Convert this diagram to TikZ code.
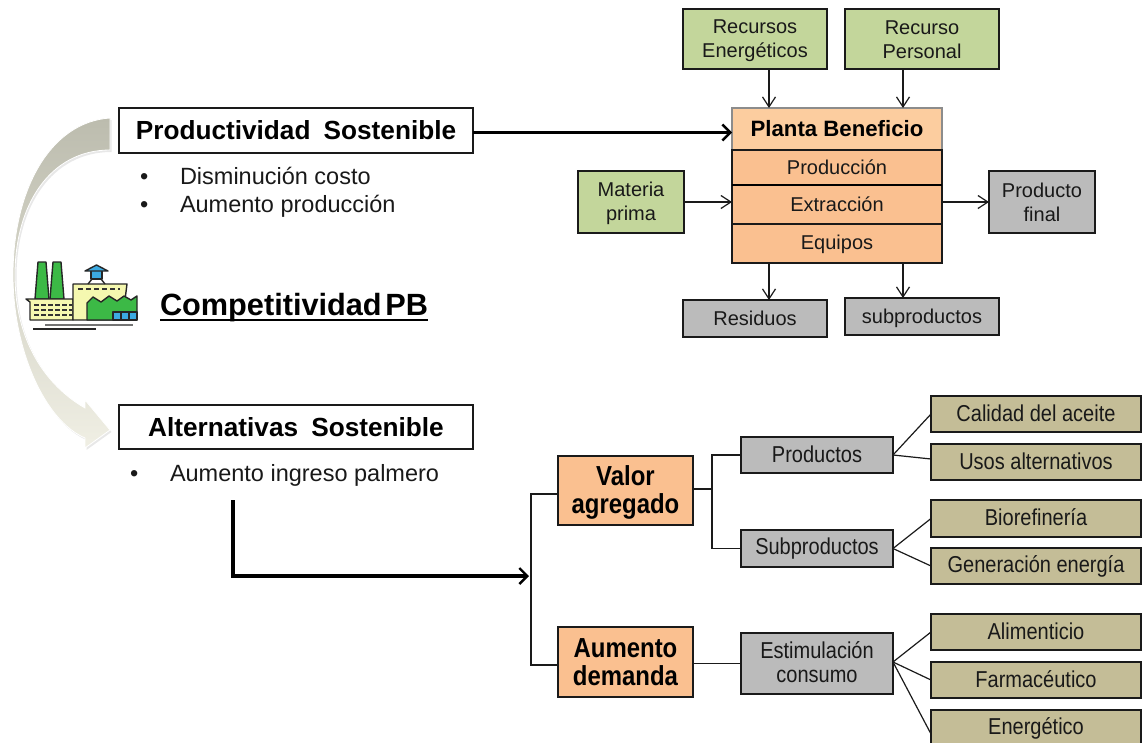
\documentclass[tikz,border=0pt]{standalone}
\usepackage{fontspec}
\setmainfont{Liberation Sans}
\newfontfamily\condfont[FakeStretch=0.87]{Liberation Sans}
\usetikzlibrary{arrows.meta,shadows}
\definecolor{cgreen}{HTML}{C3D69B}
\definecolor{cgray}{HTML}{BBBBBB}
\definecolor{corange}{HTML}{FAC090}
\definecolor{clight}{HTML}{FCCD9F}
\definecolor{ctan}{HTML}{C4BD97}
\definecolor{cline}{HTML}{1A1A1A}
\newcommand{\fs}[2]{\fontsize{#1}{#2}\selectfont}
\newcommand{\st}{\rule[-3pt]{0pt}{20pt}}
\newcommand{\bx}[7]{\node[#6,minimum width={(#4-#2)*1pt},minimum height={(#5-#3)*1pt}] (#1) at ({(#2+#4)/2},{(#3+#5)/2}) {#7};}
\tikzset{
 box/.style={draw=cline,line width=1.3pt,inner sep=0pt,outer sep=0pt,align=center,font=\fs{20}{24},text=black!90},
 gbox/.style={box,fill=cgreen},
 ybox/.style={box,fill=cgray},
 obox/.style={box,fill=corange},
 tbox/.style={box,fill=ctan},
 cybox/.style={box,fill=cgray,font=\condfont\fs{23}{24}},
 ctbox/.style={box,fill=ctan,font=\condfont\fs{23}{24}},
 lbox/.style={box,fill=clight,draw=black!45,font=\fs{22.2}{24}\bfseries,text=black},
 wbox/.style={box,fill=white,font=\fs{26.2}{28}\bfseries,text=black},
 vbox/.style={box,fill=corange,font=\condfont\fs{27.5}{28}\bfseries,text=black},
 con/.style={draw=cline,line width=1.2pt},
 arr/.style={con,-{Straight Barb[length=10pt,width=13pt,line width=1.2pt]}},
 thick arr/.style={draw=black,line width=3.2pt,-{Straight Barb[length=8pt,width=16pt,line width=2.4pt]}},
 txt/.style={inner sep=0pt,outer sep=0pt,anchor=base west,font=\fs{23.5}{28},text=black!90},
 facline/.style={draw=black!85,line width=1.4pt,line join=round},
}
\begin{document}
\begin{tikzpicture}[x=1pt,y=-1pt]
\useasboundingbox (0,0) rectangle (1143,742);
% curved arrow
\begin{scope}[shift={(1.5,2)}]
\fill[black!15,opacity=.6] (110,118) .. controls (50,122) and (13,190) .. (13,275) .. controls (13,350) and (45,421) .. (85,438) -- (85,448) -- (110,430) -- (85,400) -- (85,408) .. controls (45,385) and (15,340) .. (15,275) .. controls (15,205) and (50,150) .. (110,150) -- cycle;
\end{scope}
\path[draw=white,line width=.8pt,
 top color={rgb,255:red,188;green,188;blue,174},middle color={rgb,255:red,226;green,226;blue,212},bottom color={rgb,255:red,240;green,239;blue,228}]
 (110,118) .. controls (50,122) and (13,190) .. (13,275) .. controls (13,350) and (45,421) .. (85,438) -- (85,448) -- (110,430) -- (85,400) -- (85,408) .. controls (45,385) and (15,340) .. (15,275) .. controls (15,205) and (50,150) .. (110,150) -- cycle;
% factory
\draw[facline,fill={rgb,255:red,60;green,185;blue,70}] (38,262) -- (46,262) -- (49,299) -- (35,299) -- cycle;
\draw[facline,fill={rgb,255:red,60;green,185;blue,70}] (53,262) -- (61,262) -- (64,299) -- (50,299) -- cycle;
\draw[facline,fill={rgb,255:red,245;green,248;blue,176}] (26,299) -- (73,299) -- (73,320) -- (30,320) -- (30,302) -- cycle;
\draw[facline,fill={rgb,255:red,245;green,248;blue,176}] (73,284) -- (127,284) -- (125,300) -- (125,320) -- (73,320) -- cycle;
\draw[facline,fill={rgb,255:red,60;green,185;blue,70}] (87,320) -- (87,303) -- (93,297) -- (101,302) -- (109,296) -- (117,301) -- (124,296) -- (131,300) -- (137,296) -- (137,320) -- cycle;
\draw[facline,fill={rgb,255:red,60;green,170;blue,225}] (113,312) rectangle (121,320);
\draw[facline,fill={rgb,255:red,60;green,170;blue,225}] (121,312) rectangle (129,320);
\draw[facline,fill={rgb,255:red,60;green,170;blue,225}] (129,312) rectangle (137,320);
\draw[facline,fill={rgb,255:red,60;green,170;blue,225}] (91,270) rectangle (102,279);
\draw[facline,fill={rgb,255:red,60;green,170;blue,225}] (85,271) -- (96.500,265) -- (108,271) -- cycle;
\draw[facline] (92,279) -- (88,284) (101,279) -- (105,284);
\draw[black!80,line width=1.4pt,dash pattern=on 5pt off 2pt] (34,305) -- (72,305) (34,310) -- (72,310) (34,315) -- (72,315);
\draw[black!80,line width=1.4pt,dash pattern=on 5pt off 3pt] (78,289) -- (120,289);
\draw[black!55,line width=1.6pt] (45,325) -- (133,325);
\draw[black!85,line width=1.6pt] (33,329) -- (96,329);
% boxes left
\bx{pro}{119}{108}{473}{153}{wbox}{Productividad\hspace{.5em}Sostenible}
\bx{alt}{119}{405}{473}{449}{wbox}{Alternativas\hspace{.5em}Sostenible}
\node[txt] (b1) at (140,184) {•};
\node[txt] (t1) at (180,184) {Disminución costo};
\node[txt] (b2) at (140,212) {•};
\node[txt] (t2) at (180,212) {Aumento producción};
\node[txt] (b3) at (130,481) {•};
\node[txt] (t3) at (170,481) {Aumento ingreso palmero};
\node[txt,font=\fs{30.7}{32}\bfseries,text=black] (comp) at (160,315) {Competitividad\hspace{.12em}PB};
\draw[black,line width=2pt] ([yshift=-5pt]comp.base west) -- ([yshift=-5pt]comp.base east);
% top right
\bx{rec}{683}{9}{827}{69}{gbox}{\st Recursos\\\st Energéticos}
\bx{per}{845}{9}{999}{69}{gbox}{\st Recurso\\\st Personal}
\bx{pla}{732}{108}{942}{150}{lbox}{Planta Beneficio}
\bx{prd}{732}{150}{942}{185}{obox}{\st Producción}
\bx{ext}{732}{185}{942}{224}{obox}{\st Extracción}
\bx{equ}{732}{224}{942}{263}{obox}{\st Equipos}
\draw[black,line width=2.4pt] (prd.south west) -- (prd.south east);
\bx{mat}{578}{171}{684}{233}{gbox}{\st Materia\\\st prima}
\bx{fin}{989}{171}{1095}{233}{ybox}{\st Producto\\\st final}
\bx{res}{683}{300}{827}{337}{ybox}{\st Residuos}
\bx{sub}{845}{298}{999}{335}{ybox}{\st\raisebox{-2pt}{subproductos}}
\draw[arr] ([xshift=14pt]rec.south) -- ([xshift=14pt]rec.south |- pla.north);
\draw[arr] ([xshift=-19pt]per.south) -- ([xshift=-19pt]per.south |- pla.north);
\draw[arr] (mat.east) -- (mat.east -| ext.west);
\draw[arr] (fin.west -| ext.east) -- (fin.west);
\draw[arr] ([xshift=-68pt]equ.south) -- ([xshift=-68pt]equ.south |- res.north);
\draw[arr] ([xshift=66pt]equ.south) -- ([xshift=66pt]equ.south |- sub.north);
\draw[thick arr] ([yshift=-2pt]pro.east) -- ([yshift=-2pt]pro.east -| pla.west);
% bottom right
\bx{val}{558}{456}{693}{525}{vbox}{\rule{0pt}{24pt}Valor\\agregado}
\bx{aum}{558}{627}{693}{697}{vbox}{Aumento\\demanda}
\bx{prod}{741}{437}{893}{473}{cybox}{\st Productos}
\bx{spro}{741}{530}{893}{567}{cybox}{\st Subproductos}
\bx{est}{741}{633}{893}{694}{cybox}{\st Estimulación\\\st consumo}
\bx{cal}{931}{396}{1141}{432}{ctbox}{\st Calidad del aceite}
\bx{uso}{931}{444}{1141}{480}{ctbox}{\st Usos alternativos}
\bx{bio}{931}{500}{1141}{537}{ctbox}{\st Biorefinería}
\bx{gen}{931}{548}{1141}{584}{ctbox}{\st Generación energía}
\bx{ali}{931}{614}{1141}{650}{ctbox}{\st Alimenticio}
\bx{far}{931}{662}{1141}{698}{ctbox}{\st Farmacéutico}
\node[box,fill=ctan,minimum width=210pt,minimum height=42pt] (ene) at (1036,731) {};
\node[inner sep=0pt,font=\condfont\fs{23}{24},text=black!90] (enet) at (1036,728) {Energético};
\coordinate (spine) at (531,576);
\coordinate (fork) at (712,489);
\coordinate (arrstart) at (233,500);
\draw[con] (val.west |- 0,494) -| (spine) |- (aum.west |- 0,665);
\draw[con] (val.east |- fork) -- (fork);
\draw[con] (prod.west) -| (fork) |- (spro.west);
\draw[con] (aum.east |- est) -- (est.west);
\draw[con] (prod.east) -- (cal.west);
\draw[con] (prod.east) -- ([yshift=3pt]uso.west);
\draw[con] (spro.east) -- (bio.west);
\draw[con] (spro.east) -- (gen.west);
\draw[con] ([yshift=1.500pt]est.east) -- (ali.west);
\draw[con] ([yshift=1.500pt]est.east) -- (far.west);
\draw[con] ([yshift=1.500pt]est.east) -- ([yshift=-3pt]ene.west);
\draw[thick arr] (arrstart) |- ([xshift=-2pt]spine);
\end{tikzpicture}
\end{document}
